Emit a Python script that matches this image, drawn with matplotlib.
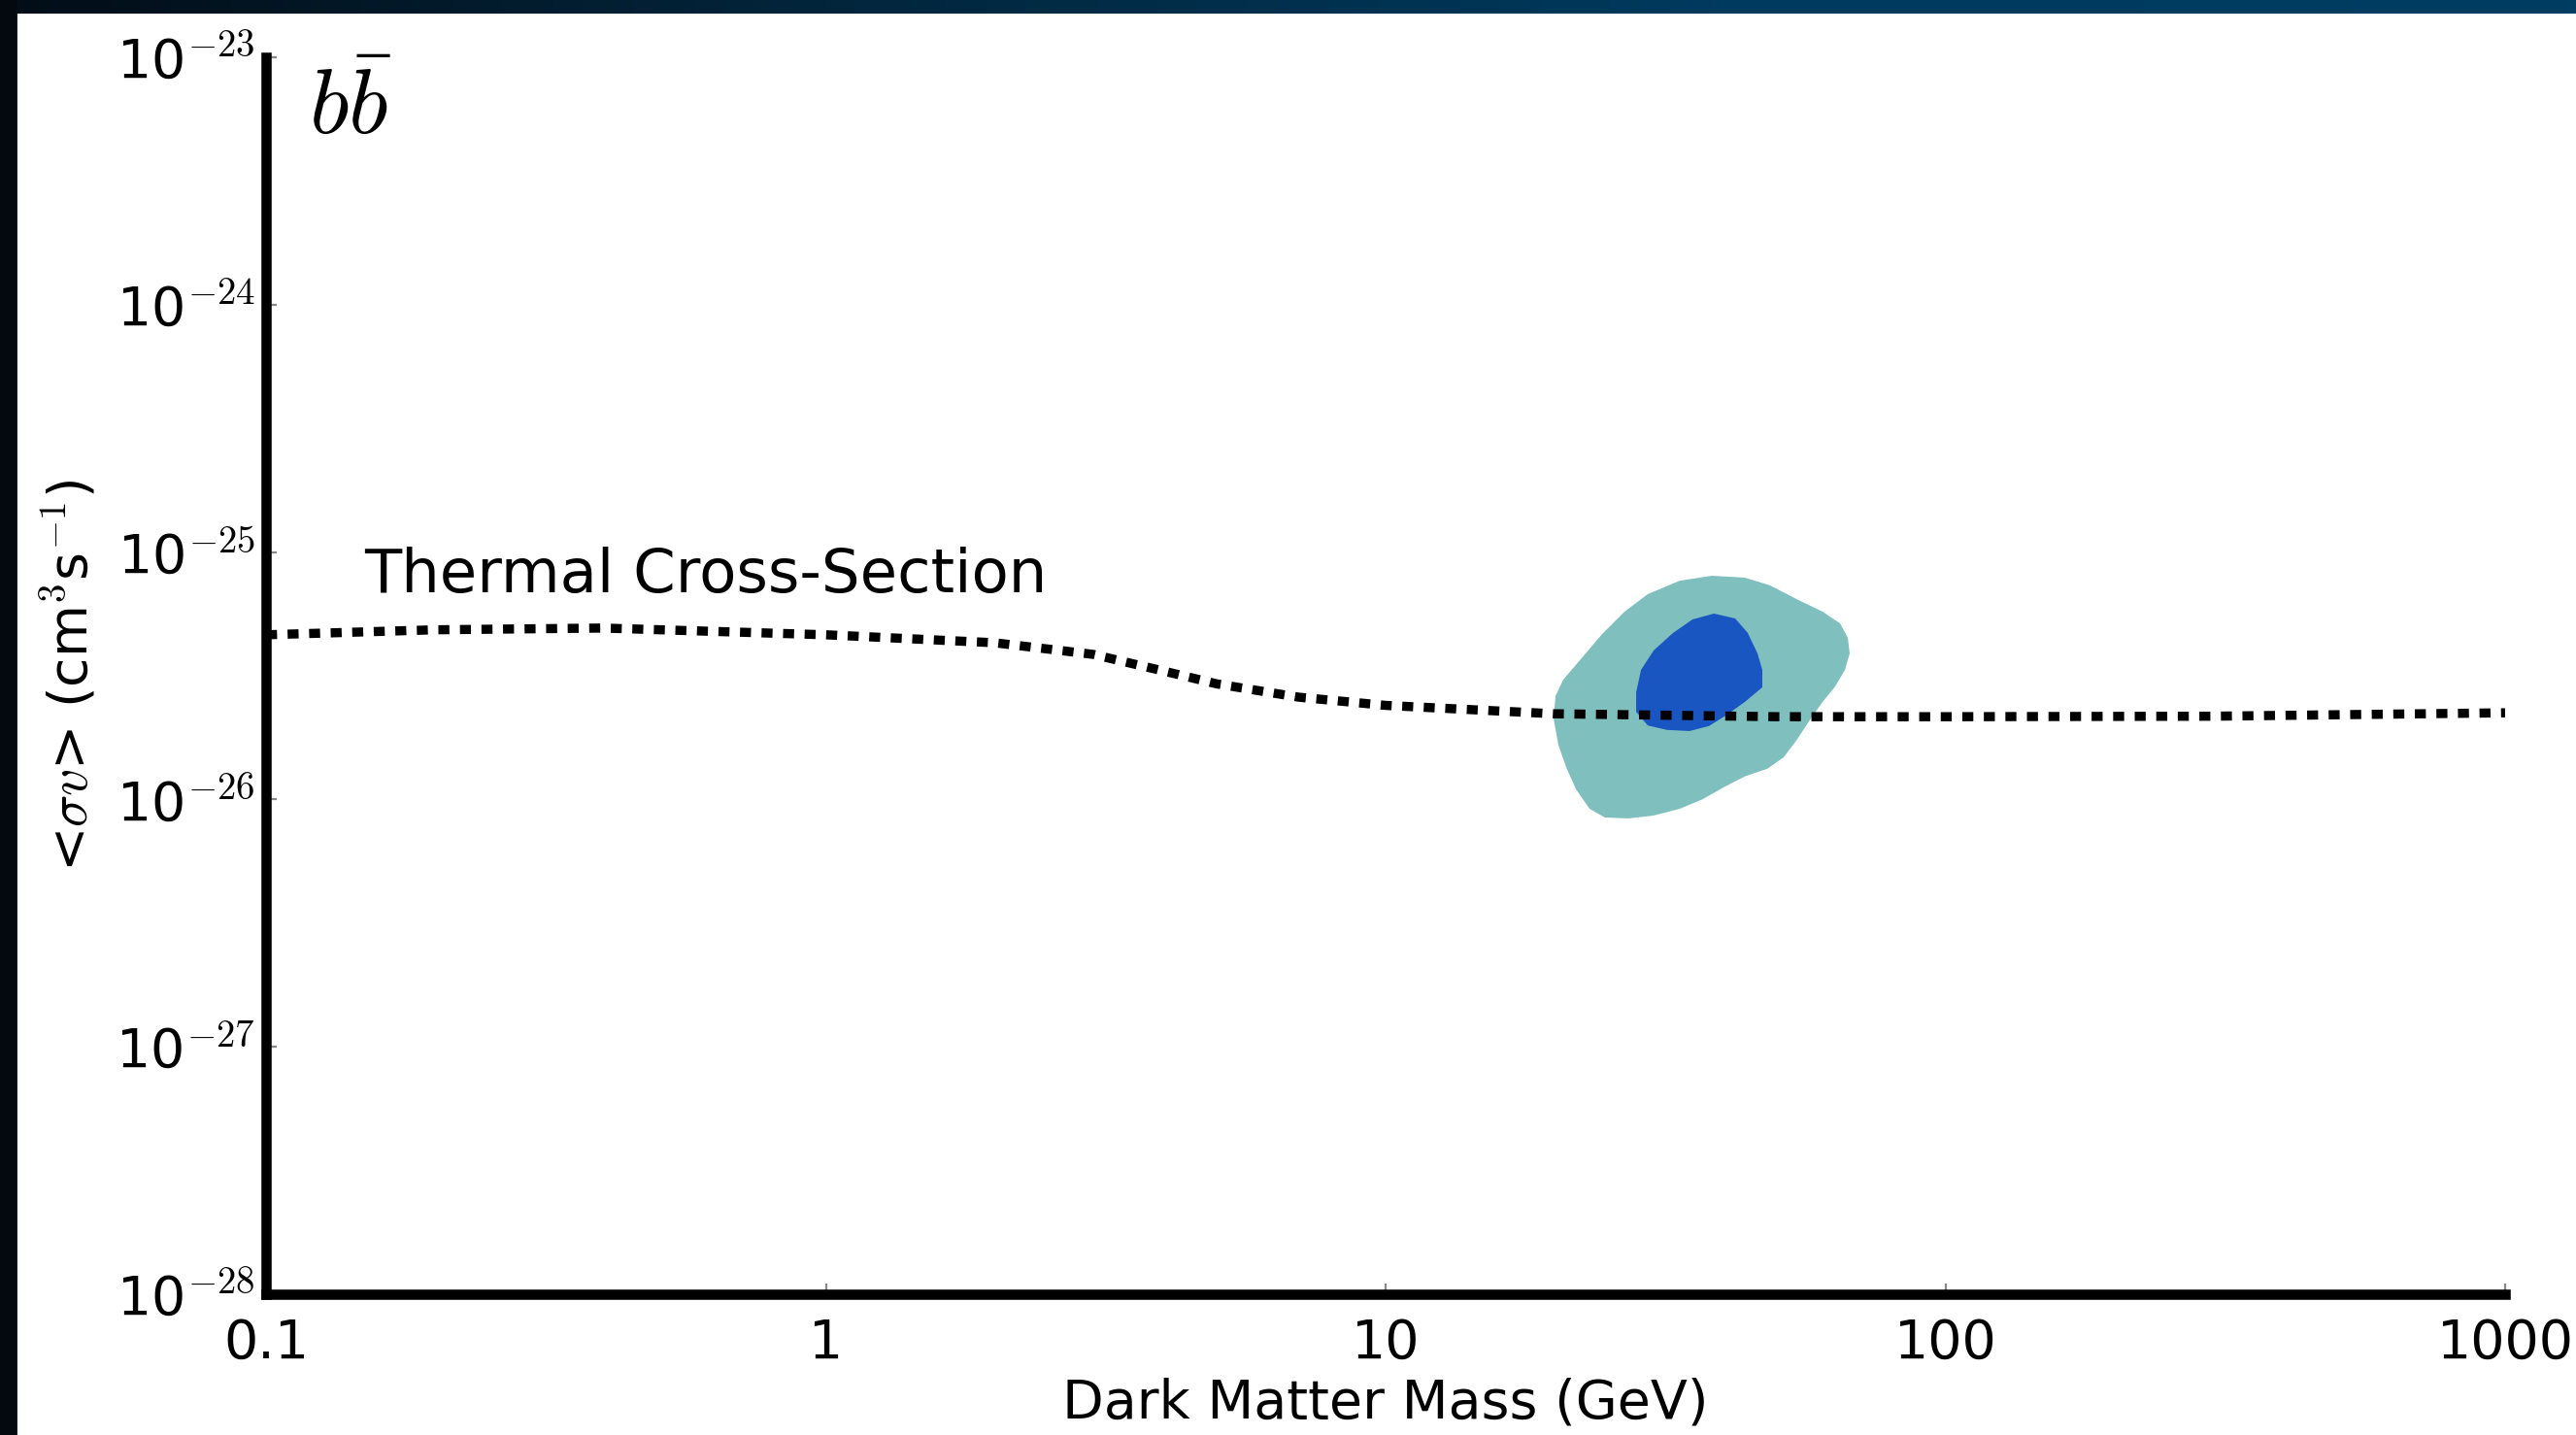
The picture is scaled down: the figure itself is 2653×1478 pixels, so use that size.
import numpy as np
import matplotlib
matplotlib.use("Agg")
import matplotlib.pyplot as plt
from matplotlib.colors import LinearSegmentedColormap

plt.rcParams['mathtext.fontset'] = 'cm'
plt.rcParams['font.family'] = ['DejaVu Sans']

# thermal relic cross-section
mass = [0.1, 0.2, 0.4, 1, 2, 3, 4, 5, 7, 10, 20, 50, 100, 300, 1000]
sigma_v = [4.63e-26, 4.85e-26, 4.93e-26, 4.63e-26, 4.30e-26, 3.86e-26, 3.31e-26,
           2.93e-26, 2.59e-26, 2.40e-26, 2.22e-26, 2.16e-26, 2.16e-26, 2.17e-26, 2.24e-26]

# outer (2 sigma) region outline
outer_m = [38.28, 43.85, 48.63, 54.17, 60.35, 64.84, 66.95, 67.47, 66.15, 63.55, 60.35,
           57.07, 54.17, 51.42, 48.05, 43.85, 40.48, 36.78, 33.54, 30.12, 27.15, 24.66,
           23.14, 21.88, 21.02, 20.36, 19.96, 20.12, 20.77, 22.23, 24.37, 26.72, 29.41, 33.54]
outer_sv = [8.02e-26, 7.88e-26, 7.33e-26, 6.46e-26, 5.74e-26, 5.15e-26, 4.50e-26, 3.89e-26,
            3.34e-26, 2.86e-26, 2.48e-26, 2.07e-26, 1.73e-26, 1.48e-26, 1.33e-26, 1.24e-26,
            1.13e-26, 1.00e-26, 9.17e-27, 8.61e-27, 8.38e-27, 8.45e-27, 9.17e-27, 1.10e-26,
            1.35e-26, 1.66e-26, 2.12e-26, 2.62e-26, 3.05e-26, 3.65e-26, 4.66e-26, 5.74e-26,
            6.76e-26, 7.66e-26]

# inner (1 sigma) region outline
inner_m = [38.59, 42.13, 44.36, 46.18, 47.10, 47.10, 43.85, 40.48, 37.82, 34.91, 31.84,
           29.41, 28.03, 28.03, 28.60, 30.12, 32.62, 35.33]
inner_sv = [5.64e-26, 5.39e-26, 4.71e-26, 3.89e-26, 3.34e-26, 2.84e-26, 2.48e-26, 2.18e-26,
            1.98e-26, 1.89e-26, 1.91e-26, 1.99e-26, 2.26e-26, 2.71e-26, 3.34e-26, 4.00e-26,
            4.71e-26, 5.34e-26]

xticks = [0.1, 1, 10, 100, 1000]
xticklabels = ['0.1', '1', '10', '100', '1000']
yexp = [-28, -27, -26, -25, -24, -23]

fig = plt.figure(figsize=(13.265, 7.39), dpi=200, facecolor='white')

# dark frame strips of the slide
top = fig.add_axes([0, 1 - 14 / 1478, 1, 14 / 1478])
grad = np.linspace(0, 1, 256).reshape(1, -1)
cm_bar = LinearSegmentedColormap.from_list('bar', ['#020d17', '#02263d', '#003a5e', '#003d62'])
top.imshow(grad, aspect='auto', cmap=cm_bar)
top.axis('off')
fig.patches.append(plt.Rectangle((0, 0), 16 / 2653, 1, transform=fig.transFigure,
                                 color='#03090f', zorder=0))

ax = fig.add_axes([274 / 2653, 145 / 1478, 2306 / 2653, 1274 / 1478])
ax.set_xscale('log')
ax.set_yscale('log')

ax.fill(outer_m, outer_sv, color='#7fbfbd', lw=0, zorder=1)
ax.fill(inner_m, inner_sv, color='#1a56c2', lw=0, zorder=2)
ax.plot(mass, sigma_v, color='black', lw=3.4, linestyle=(0, (1.2, 1.15)), zorder=3)

ax.set_xlim(0.1, 1000)
ax.set_ylim(1e-28, 1e-23)

ax.text(0.15, 8.0e-26, 'Thermal Cross-Section', fontsize=22.5, va='center', ha='left')
ax.text(0.019, 0.938, r'$b\bar{b}$', transform=ax.transAxes, fontsize=34,
        va='baseline', ha='left')

for s in ['top', 'right']:
    ax.spines[s].set_visible(False)
for s in ['left', 'bottom']:
    ax.spines[s].set_linewidth(3.8)

ax.set_xticks(xticks)
ax.set_xticklabels(xticklabels)
ax.set_yticks([10.0 ** e for e in yexp])
ax.set_yticklabels([r'$\mathregular{10}^{%d}$' % e for e in yexp])
ax.minorticks_off()
ax.tick_params(axis='both', direction='in', length=4, width=0.8, color='#888888',
               labelsize=20)
ax.tick_params(axis='x', pad=8.5)
ax.tick_params(axis='y', pad=4)

ax.set_xlabel('Dark Matter Mass (GeV)', fontsize=20, labelpad=3)
ax.set_ylabel(r'<$\sigma v$> (cm$^3$s$^{-1}$)', fontsize=20, labelpad=6)

fig.savefig('out.png', dpi=200, facecolor='white')
